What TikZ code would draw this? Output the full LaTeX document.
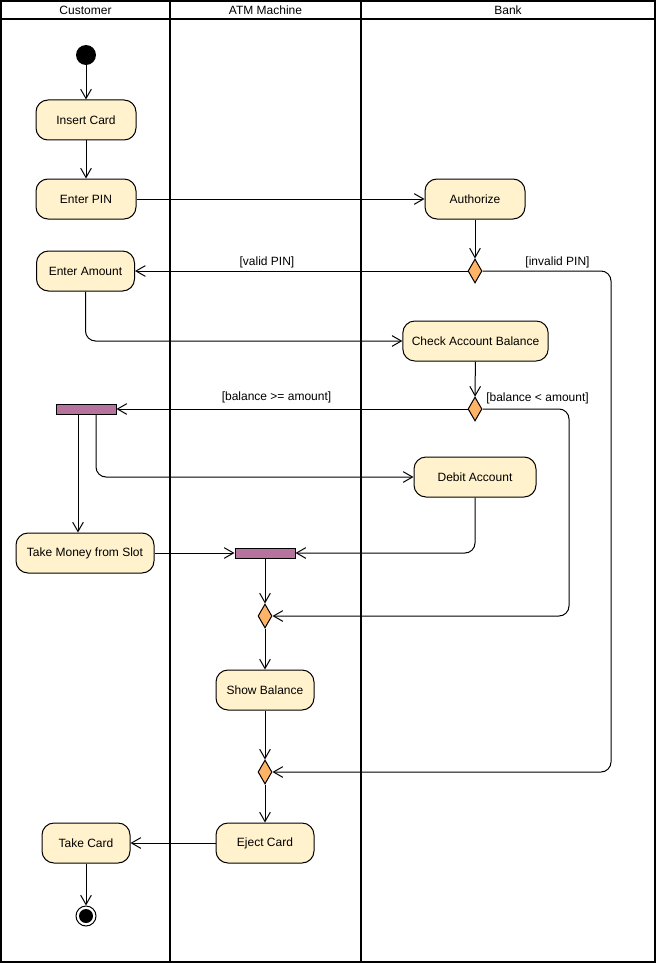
\documentclass[tikz,border=0pt]{standalone}
\usepackage{fontspec}
\setmainfont{Liberation Sans}
\usetikzlibrary{arrows.meta,shapes.geometric}
\definecolor{actfill}{RGB}{255,242,204}
\definecolor{barfill}{RGB}{181,115,157}
\definecolor{decfill}{RGB}{255,179,102}
\tikzset{every picture/.style={line width=0.75pt}}
\tikzset{
	activity/.style={draw, fill=actfill, rounded corners=9pt, minimum height=30pt, inner sep=2pt, font=\fontsize{9}{11}\selectfont},
	forkbar/.style={draw, fill=barfill, minimum width=45pt, minimum height=7.5pt, inner sep=0pt},
	decision/.style={draw, fill=decfill, diamond, minimum width=10.5pt, minimum height=18pt, inner sep=0pt},
	flow/.style={-{Straight Barb[length=7pt,width=8pt]}, rounded corners=7.5pt},
	guard/.style={font=\fontsize{9}{11}\selectfont},
	lanetitle/.style={font=\fontsize{9}{11}\selectfont}
}

\begin{document}
\begin{tikzpicture}[x=0.75pt,y=0.75pt,yscale=-1,xscale=1]
	\useasboundingbox (0,0) rectangle (656,963);

	%Shape: Pool [id:pool] 
	\draw [line width=1.5pt] (1,1) rectangle (655,962);
	\draw [line width=1.5pt] (1,19) -- (655,19);
	\draw [line width=1.5pt] (170,1) -- (170,962);
	\draw [line width=1.5pt] (361,1) -- (361,962);
	\node [lanetitle] (laneCustomer) at (85.5,10) {Customer};
	\node [lanetitle] (laneATM) at (265.5,10) {ATM Machine};
	\node [lanetitle] (laneBank) at (508,10) {Bank};

	%Shape: Start / End 
	\node [circle, fill=black, minimum size=15pt, inner sep=0pt] (start) at (86,55) {};
	\node [circle, draw, fill=white, minimum size=15pt, inner sep=0pt] (end) at (86,916) {};
	\node [circle, fill=black, minimum size=10.5pt, inner sep=0pt] (endDot) at (end.center) {};

	%Shape: Activities 
	\node [activity, minimum width=75pt] (insertCard) at (86,120) {Insert Card};
	\node [activity, minimum width=75pt] (enterPin) at (86,199) {Enter PIN};
	\node [activity, minimum width=75pt] (authorize) at (475,199) {Authorize};
	\node [activity, minimum width=73.5pt] (enterAmount) at (85.5,271) {Enter Amount};
	\node [activity, minimum width=109pt] (checkBalance) at (475.5,341) {Check Account Balance};
	\node [activity, minimum width=91.5pt] (debitAccount) at (475,477) {Debit Account};
	\node [activity, minimum width=103.5pt] (takeMoney) at (85,553) {Take Money from Slot};
	\node [activity, minimum width=73.5pt] (showBalance) at (265,690) {Show Balance};
	\node [activity, minimum width=73.5pt] (ejectCard) at (265,843) {Eject Card};
	\node [activity, minimum width=66pt] (takeCard) at (86,843) {Take Card};

	%Shape: Fork bars 
	\node [forkbar] (forkA) at (86,409) {};
	\node [forkbar] (forkB) at (265,553) {};

	%Shape: Decisions 
	\node [decision] (pinCheck) at (475,271) {};
	\node [decision] (balanceCheck) at (475,409) {};
	\node [decision] (mergeA) at (265,616) {};
	\node [decision] (mergeB) at (265,772) {};

	%Coordinates for bends 
	\coordinate (railPin) at (611,271);
	\coordinate (railBalance) at (569,409);
	\coordinate (forkAleft) at ([xshift=-6pt]forkA.south);
	\coordinate (forkAright) at ([xshift=7.5pt]forkA.south);

	%Straight Lines 
	\draw [flow] (start) -- (insertCard);
	\draw [flow] (insertCard) -- (enterPin);
	\draw [flow] (enterPin) -- (authorize);
	\draw [flow] (authorize) -- (pinCheck);
	\draw [flow] (pinCheck) -- (enterAmount);
	\draw [flow] (pinCheck.east) -- (railPin) |- (mergeB.east);
	\draw [flow] (enterAmount.south) |- (checkBalance.west);
	\draw [flow] (checkBalance) -- (balanceCheck);
	\draw [flow] (balanceCheck) -- (forkA);
	\draw [flow] (balanceCheck.east) -- (railBalance) |- (mergeA.east);
	\draw [flow] (forkAleft) -- (forkAleft |- takeMoney.north);
	\draw [flow] (forkAright) |- (debitAccount.west);
	\draw [flow] (debitAccount.south) |- (forkB.east);
	\draw [flow] (takeMoney) -- (forkB);
	\draw [flow] (forkB) -- (mergeA);
	\draw [flow] (mergeA) -- (showBalance);
	\draw [flow] (showBalance) -- (mergeB);
	\draw [flow] (mergeB) -- (ejectCard);
	\draw [flow] (ejectCard) -- (takeCard);
	\draw [flow] (takeCard) -- (end);

	%Guards 
	\node [guard] (validPin) at (267,262) {[valid PIN]};
	\node [guard] (invalidPin) at (557.5,262) {[invalid PIN]};
	\node [guard] (enoughBalance) at (276.5,397) {[balance >= amount]};
	\node [guard] (lowBalance) at (537.5,398) {[balance < amount]};

\end{tikzpicture}
\end{document}
